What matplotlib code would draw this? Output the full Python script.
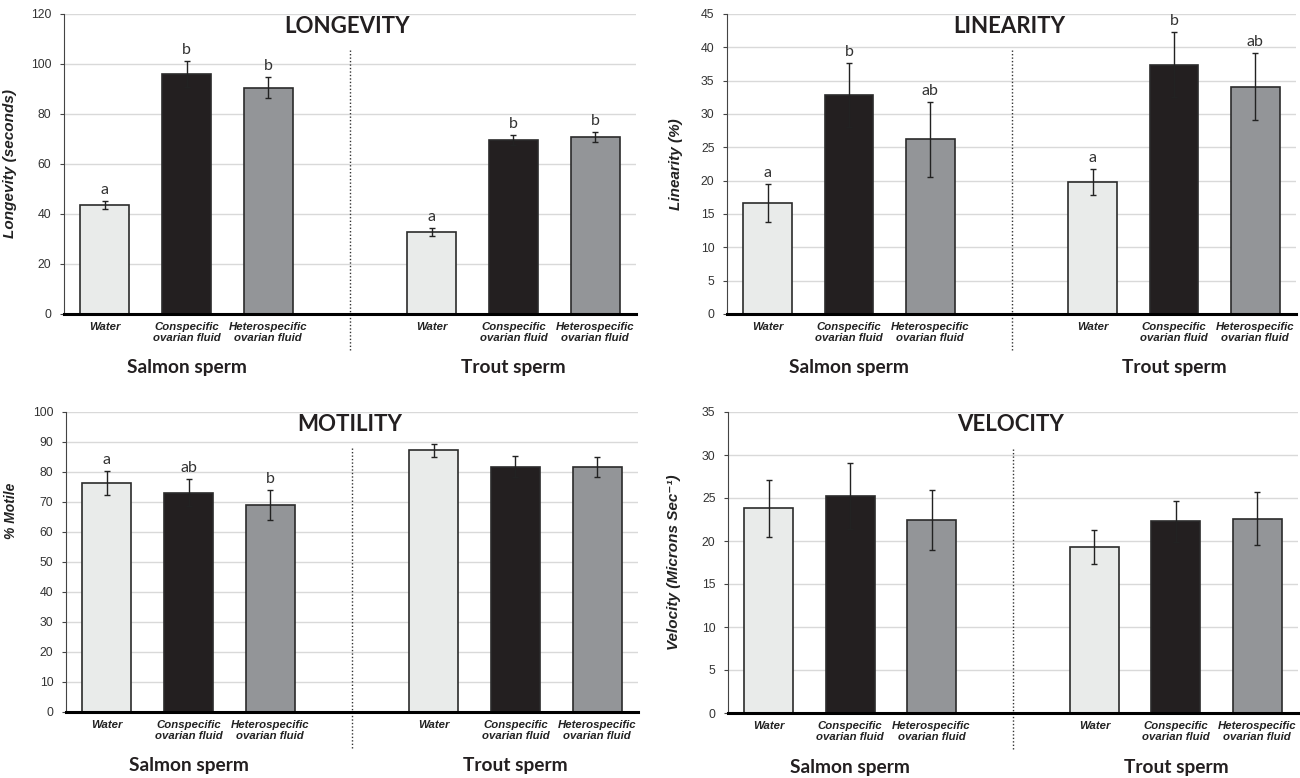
import numpy as np
import matplotlib
matplotlib.use("Agg")
import matplotlib.pyplot as plt
import matplotlib.transforms as mtransforms

groups = ["Salmon sperm", "Trout sperm"]
treatments = ["Water", "Conspecific\novarian fluid", "Heterospecific\novarian fluid"]
bar_colors = ["#e9ebea", "#231f20", "#939598"]

longevity = [43.7, 95.9, 90.5, 32.8, 69.6, 70.8]
longevity_err = [1.5, 5.2, 4.2, 1.5, 1.9, 1.9]
longevity_letters = ["a", "b", "b", "a", "b", "b"]

linearity = [16.7, 32.9, 26.2, 19.8, 37.4, 34.1]
linearity_err = [2.85, 4.8, 5.6, 1.95, 4.85, 5.0]
linearity_letters = ["a", "b", "ab", "a", "b", "ab"]

motility = [76.4, 73.1, 69.0, 87.2, 81.8, 81.7]
motility_err = [4.0, 4.5, 5.0, 2.2, 3.6, 3.3]
motility_letters = ["a", "ab", "b", "", "", ""]

velocity = [23.8, 25.2, 22.4, 19.3, 22.3, 22.6]
velocity_err = [3.3, 3.85, 3.5, 1.95, 2.4, 3.1]
velocity_letters = ["", "", "", "", "", ""]

# bar slots: three per group, one empty slot between groups
xpos = np.r_[np.arange(3), np.arange(3) + 4]

TITLE_FONT = ["Lato", "DejaVu Sans"]
ARIAL = ["Liberation Sans", "DejaVu Sans"]

W, H = 1300, 778
fig = plt.figure(figsize=(W / 100, H / 100), dpi=100)


def rect(left, right, top, bottom):
    return [left / W, (H - bottom) / H, (right - left) / W, (bottom - top) / H]


panels = [
    dict(r=rect(64, 636, 14, 314), title="LONGEVITY", vals=longevity, err=longevity_err,
         letters=longevity_letters, ymax=120, step=20, ylabel="Longevity (seconds)",
         lx=-0.082, ly=0.5, lsize=11),
    dict(r=rect(727, 1296, 14, 314), title="LINEARITY", vals=linearity, err=linearity_err,
         letters=linearity_letters, ymax=45, step=5, ylabel="Linearity (%)",
         lx=-0.077, ly=0.5, lsize=11),
    dict(r=rect(66, 638, 412, 712), title="MOTILITY", vals=motility, err=motility_err,
         letters=motility_letters, ymax=100, step=10, ylabel="% Motile",
         lx=-0.084, ly=0.67, lsize=10),
    dict(r=rect(728, 1298, 412, 713), title="VELOCITY", vals=velocity, err=velocity_err,
         letters=velocity_letters, ymax=35, step=5, ylabel="Velocity (Microns Sec\u207b\u00b9)",
         lx=-0.082, ly=0.5, lsize=11),
]

for p in panels:
    ax = fig.add_axes(p["r"])
    colors = bar_colors * 2
    ax.bar(xpos, p["vals"], width=0.6, color=colors, edgecolor="#2b2b2b",
           linewidth=1.2, zorder=2)
    ax.errorbar(xpos, p["vals"], yerr=p["err"], fmt="none", ecolor="#222222",
                elinewidth=1, capsize=2, capthick=1, zorder=3)

    ax.set_xlim(-0.5, 6.5)
    ax.set_ylim(0, p["ymax"])
    ax.set_yticks(np.arange(0, p["ymax"] + 1, p["step"]))
    ax.set_xticks([])
    ax.yaxis.grid(True, color="#d9d9d9", linewidth=1)
    ax.set_axisbelow(True)
    for s in ("top", "right"):
        ax.spines[s].set_visible(False)
    ax.spines["left"].set_color("#444444")
    ax.spines["left"].set_linewidth(0.8)
    ax.spines["bottom"].set_color("black")
    ax.spines["bottom"].set_linewidth(2.2)
    ax.spines["bottom"].set_zorder(4)
    ax.tick_params(axis="y", length=3, width=0.8, color="#444444", pad=6,
                   labelsize=8.8, labelcolor="#333333")
    for t in ax.get_yticklabels():
        t.set_family(ARIAL)

    ax.set_ylabel(p["ylabel"], family=ARIAL, fontsize=p["lsize"], fontweight="bold",
                  style="italic", color="#222222")
    ax.yaxis.set_label_coords(p["lx"], p["ly"])

    trans = mtransforms.blended_transform_factory(ax.transData, ax.transAxes)
    ax.plot([3, 3], [-0.12, 0.88], transform=trans, ls=(0, (1, 1.5)), color="#333333",
            lw=1, clip_on=False)

    ax.text(2.97, 0.958, p["title"], transform=trans, ha="center", va="center",
            family=TITLE_FONT, fontsize=16, fontweight="bold", color="#231f20")

    for x, v, e, lab in zip(xpos, p["vals"], p["err"], p["letters"]):
        if lab:
            ax.annotate(lab, (x, v + e), xytext=(0, 7), textcoords="offset pixels",
                        ha="center", va="baseline", family=TITLE_FONT, fontsize=11.5,
                        color="#333333")

    for x, lab in zip(xpos, treatments * 2):
        ax.annotate(lab, (x, 0), xycoords=("data", "axes fraction"), xytext=(0, -8),
                    textcoords="offset pixels", ha="center", va="top", family=ARIAL,
                    fontsize=8.2, fontweight="bold", style="italic", color="#222222",
                    linespacing=1.15)

    for x, g in zip([1, 5], groups):
        ax.annotate(g, (x, 0), xycoords=("data", "axes fraction"), xytext=(0, -54),
                    textcoords="offset pixels", ha="center", va="center",
                    family=TITLE_FONT, fontsize=13.8, fontweight="bold", color="#231f20")

fig.savefig("out.png", dpi=100)
